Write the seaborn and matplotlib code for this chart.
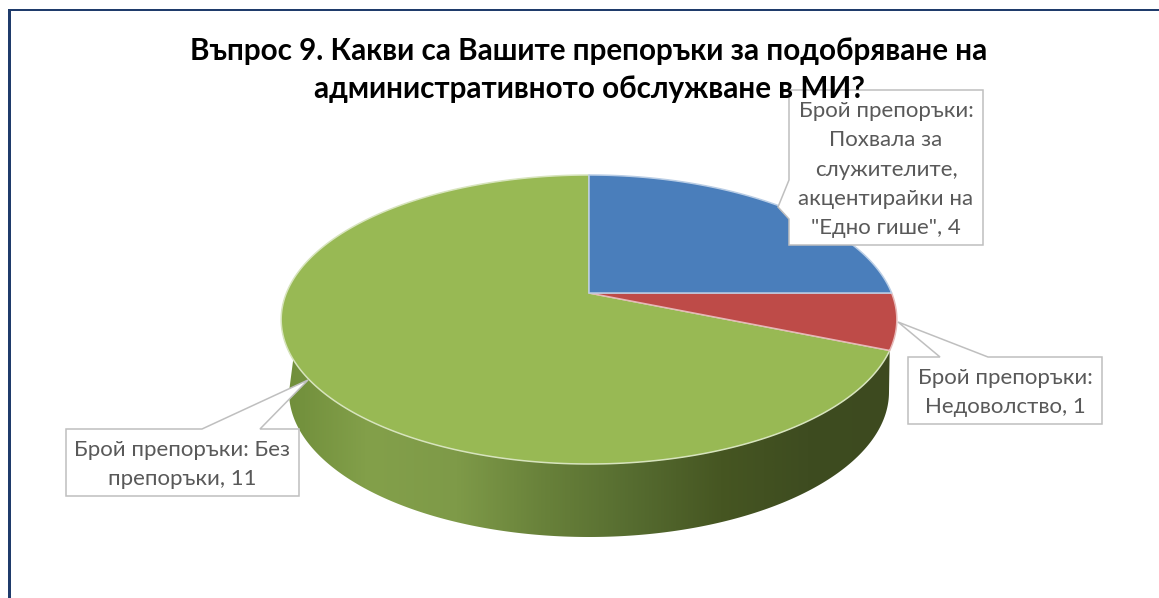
import numpy as np
import matplotlib
matplotlib.use("Agg")
import matplotlib.pyplot as plt
from matplotlib.patches import Polygon, Rectangle
import seaborn as sns

# Survey answers
series_name = "Брой препоръки"
title_lines = ["Въпрос 9. Какви са Вашите препоръки за подобряване на",
               "административното обслужване в МИ?"]
categories = ["Похвала за\nслужителите,\nакцентирайки на\n\"Едно гише\"",
              "Недоволство",
              "Без\nпрепоръки"]
label_separators = ["\n", "\n", " "]
counts = [4, 1, 11]
slice_colors = ["#4A7EBB", "#BE4B48", "#98B954"]
slice_edges = ["#B9CDE5", "#E6B9B8", "#D7E4BD"]

sns.set_theme(style="white")
plt.rcParams["font.family"] = ["Lato", "Open Sans", "DejaVu Sans"]

W, H = 1159, 598
fig = plt.figure(figsize=(W / 100, H / 100), dpi=100)
ax = fig.add_axes([0, 0, 1, 1])
ax.set_xlim(0, W)
ax.set_ylim(H, 0)
ax.axis("off")

# Perspective view of the pie disk: u to the right, v away from the viewer
CX, CY = 589.0, 293.0
TOP_Y, BOTTOM_Y = 175.0, 464.0
P = (TOP_Y + BOTTOM_Y - 2 * CY) / (BOTTOM_Y - TOP_Y)
A = TOP_Y * (1 + P) - CY
K = 302.6


def project(u, v):
    d = 1 + P * v
    return CX + K * u / d, (A * v + CY) / d


def rim(start_deg, end_deg, n=240):
    t = np.radians(np.linspace(start_deg, end_deg, n))
    return project(np.sin(t), np.cos(t))


# Side wall of the green slice, shaded from left to right
shares = np.array(counts, dtype=float)
edges_deg = np.concatenate([[0], np.cumsum(shares) / shares.sum() * 360])

wall_rx, wall_ry = 300.0, 145.0
wall_cy = 392.0
low_x, low_y = rim(edges_deg[2], 283)
t = np.linspace(0, np.pi, 240)
bottom_x = CX - wall_rx * np.cos(t)
bottom_y = wall_cy + wall_ry * np.sin(t)
wall_outline = np.column_stack([np.r_[low_x, bottom_x], np.r_[low_y, bottom_y]])
wall_patch = Polygon(wall_outline, closed=True, facecolor="none", edgecolor="none", zorder=2)
ax.add_patch(wall_patch)

wall_cmap = sns.blend_palette(
    ["#6F8D3A", "#83A04A", "#7E9A48", "#68813A", "#566C30", "#465622", "#3E4C20", "#3D4A1F"],
    as_cmap=True)
shade = ax.imshow(np.linspace(0, 1, 512)[None, :], cmap=wall_cmap, aspect="auto",
                  extent=(281, 897, 540, 300), zorder=2, interpolation="bilinear")
shade.set_clip_path(wall_patch)
ax.set_xlim(0, W)
ax.set_ylim(H, 0)

# Top face of the pie, one wedge per category
for i in (2, 1, 0):
    rx, ry = rim(edges_deg[i], edges_deg[i + 1])
    ax.add_patch(Polygon(np.column_stack([np.r_[CX, rx], np.r_[CY, ry]]), closed=True,
                         facecolor=slice_colors[i], edgecolor=slice_edges[i],
                         linewidth=1.1, joinstyle="round", zorder=3))

# Frame along the top and left edges
frame_color = "#1F3B6B"
ax.add_patch(Rectangle((7.5, 9.3), W, 2.0, facecolor=frame_color, edgecolor="none", zorder=1))
ax.add_patch(Rectangle((7.5, 9.3), 3.4, H, facecolor=frame_color, edgecolor="none", zorder=1))

# Title, drawn over the callout boxes
for line, y in zip(title_lines, (60, 98)):
    ax.text(589, y, line, ha="center", va="baseline", fontsize=21.3, fontweight="bold",
            color="black", zorder=7)

# Callouts: box left, top, right, bottom, then the pointer outline
callouts = [
    dict(box=(789, 90, 983, 245),
         pointer=[(789, 180), (778, 207), (789, 219)], side="left"),
    dict(box=(908, 357, 1102, 424), pointer=[(988, 357), (898, 322), (940, 357)], side="top"),
    dict(box=(66, 429, 299, 496), pointer=[(260, 429), (308, 380), (202, 429)], side="top"),
]
for cat, sep, value, call in zip(categories, label_separators, counts, callouts):
    x0, y0, x1, y1 = call["box"]
    if call["side"] == "left":
        path = [(x0, y0), (x1, y0), (x1, y1), (x0, y1), *call["pointer"][::-1]]
    else:
        path = [(x0, y0), *call["pointer"][::-1], (x1, y0), (x1, y1), (x0, y1)]
    ax.add_patch(Polygon(path, closed=True, facecolor="white", edgecolor="#BFBFBF",
                         linewidth=1.1, zorder=5))
    lines = f"{series_name}:{sep}{cat}, {value}".split("\n")
    cx, cy = (x0 + x1) / 2, (y0 + y1) / 2
    for j, line in enumerate(lines):
        ax.text(cx, cy + 8 + (j - (len(lines) - 1) / 2) * 29.3, line, ha="center", va="baseline",
                fontsize=16.0, color="#595959", zorder=6)

fig.savefig("out.png", dpi=100, facecolor="white")
